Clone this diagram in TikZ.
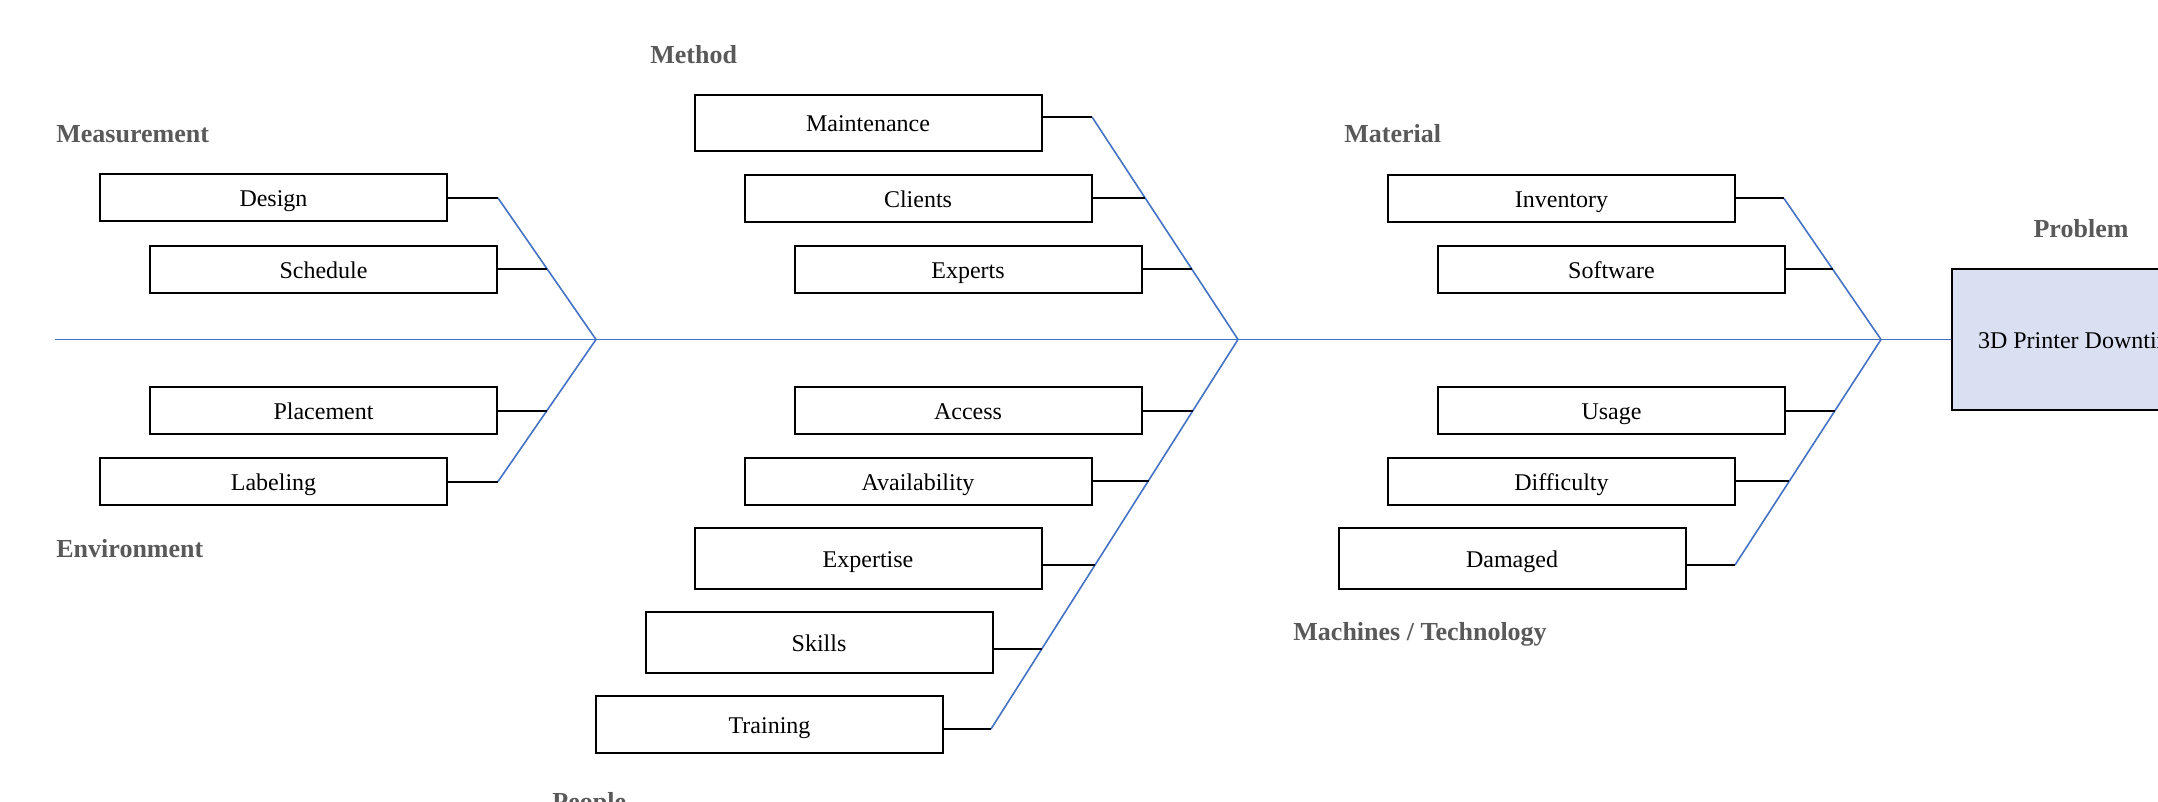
\documentclass[tikz,border=0pt]{standalone}
\usepackage{fontspec}
\setmainfont{Liberation Serif}
\definecolor{bonecol}{HTML}{4472C4}
\definecolor{headcol}{HTML}{595959}
\definecolor{probfill}{HTML}{DAE0F2}
\begin{document}
\begin{tikzpicture}[x=0.5pt,y=-0.5pt,
  cause/.style={draw=black, line width=1pt, fill=white, inner sep=0pt,
    minimum width=173.5pt, minimum height=23.5pt,
    text height=9pt, text depth=0pt,
    font=\fontsize{12}{14}\selectfont},
  causetall/.style={cause, minimum height=30.5pt},
  headlabel/.style={anchor=base west, inner sep=0pt, text=headcol,
    font=\fontsize{13}{15}\selectfont\bfseries},
  bone/.style={draw=bonecol, line width=0.8pt},
  rib/.style={draw=black, line width=1pt}]
\useasboundingbox (0,0) rectangle (2158,802);

% category headings
\node[headlabel] (hmeas) at (56,143) {Measurement};
\node[headlabel] (henv) at (56,557) {Environment};
\node[headlabel] (hmeth) at (650,64) {Method};
\node[headlabel] (hpeople) at (552,810) {People};
\node[headlabel] (hmat) at (1344,143) {Material};
\node[headlabel] (hmach) at (1293,640) {Machines / Technology};
\node[headlabel, anchor=base] (hprob) at (2081,238) {Problem};

% problem head
\node[draw=black, line width=1pt, fill=probfill, inner sep=0pt,
  minimum width=130pt, minimum height=70.5pt,
  text height=9pt, text depth=0pt,
  font=\fontsize{12}{14}\selectfont] (problem) at (2082,339.5) {3D Printer Downtime};

% Measurement / Environment causes
\node[cause] (design) at (273.5,198) {Design};
\node[cause] (schedule) at (323.5,269.5) {Schedule};
\node[cause] (placement) at (323.5,410.5) {Placement};
\node[cause] (labeling) at (273.5,481.5) {Labeling};

% Method / People causes
\node[cause, minimum height=28pt] (maintenance) at (868,123) {Maintenance};
\node[cause] (clients) at (918,198.5) {Clients};
\node[cause] (experts) at (968,269.5) {Experts};
\node[cause] (access) at (968,410.5) {Access};
\node[cause] (availability) at (918,481) {Availability};
\node[causetall] (expertise) at (868,558.5) {Expertise};
\node[causetall] (skills) at (819,642.5) {Skills};
\node[cause, minimum height=28.5pt] (training) at (769.5,724.5) {Training};

% Material / Machines causes
\node[cause] (inventory) at (1561.5,198.5) {Inventory};
\node[cause] (software) at (1611.5,269.5) {Software};
\node[cause] (usage) at (1611.5,410.5) {Usage};
\node[cause] (difficulty) at (1561.5,481) {Difficulty};
\node[causetall] (damaged) at (1512,558.5) {Damaged};

% bone end points and rib joints
\coordinate (tail) at (55,339.5);
\coordinate (T1) at (498,198);   \coordinate (J1) at (596,339.5);  \coordinate (B1) at (498,481.5);
\coordinate (m2) at (547.3,269.5); \coordinate (m3) at (547.0,410.5);

\coordinate (T2) at (1092,117);  \coordinate (J2) at (1238,339.5); \coordinate (B2) at (991,729);
\coordinate (p2) at (1145.4,198.5); \coordinate (p3) at (1191.8,269.5);
\coordinate (p4) at (1193.2,410.5); \coordinate (p5) at (1148.5,481);
\coordinate (p6) at (1095.1,565);   \coordinate (p7) at (1041.8,649);

\coordinate (T3) at (1784,198.5); \coordinate (J3) at (1881,339.5); \coordinate (B3) at (1735,565);
\coordinate (q2) at (1833,269.5); \coordinate (q3) at (1834.8,410.5); \coordinate (q4) at (1789.3,481);

% spine and main bones
\draw[bone] (tail) -- (problem.west);
\draw[bone] (T1) -- (J1) -- (B1);
\draw[bone] (T2) -- (J2) -- (B2);
\draw[bone] (T3) -- (J3) -- (B3);

% ribs
\draw[rib] (design.east) -- (T1);
\draw[rib] (schedule.east) -- (m2);
\draw[rib] (placement.east) -- (m3);
\draw[rib] (labeling.east) -- (B1);

\draw[rib] (maintenance.east |- T2) -- (T2);
\draw[rib] (clients.east) -- (p2);
\draw[rib] (experts.east) -- (p3);
\draw[rib] (access.east) -- (p4);
\draw[rib] (availability.east) -- (p5);
\draw[rib] (expertise.east |- p6) -- (p6);
\draw[rib] (skills.east |- p7) -- (p7);
\draw[rib] (training.east |- B2) -- (B2);

\draw[rib] (inventory.east) -- (T3);
\draw[rib] (software.east) -- (q2);
\draw[rib] (usage.east) -- (q3);
\draw[rib] (difficulty.east) -- (q4);
\draw[rib] (damaged.east |- B3) -- (B3);
\end{tikzpicture}
\end{document}
